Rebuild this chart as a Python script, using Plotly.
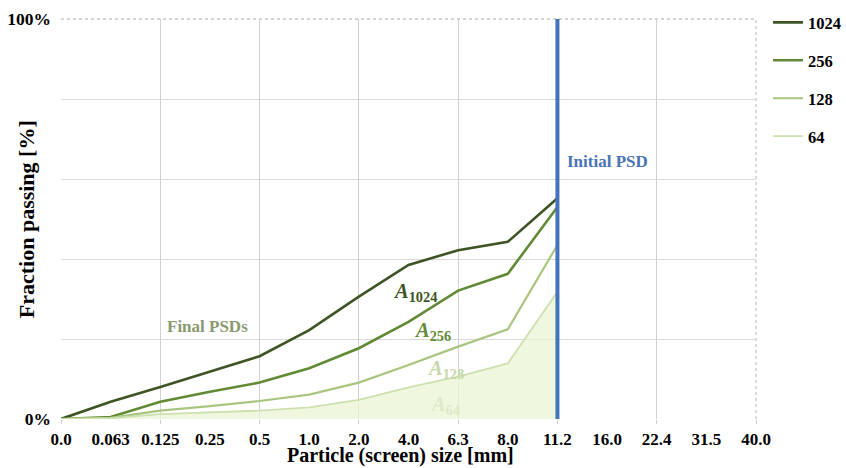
import plotly.graph_objects as go

sizes = ["0.0", "0.063", "0.125", "0.25", "0.5", "1.0", "2.0", "4.0", "6.3", "8.0",
         "11.2", "16.0", "22.4", "31.5", "40.0"]
psd_sizes = sizes[:11]
a1024 = [0, 4.3, 8.0, 11.8, 15.7, 22.2, 30.6, 38.5, 42.2, 44.3, 55.2]
a256 = [0, 0.5, 4.3, 6.8, 9.1, 12.7, 17.7, 24.3, 32.1, 36.3, 53.0]
a128 = [0, 0.3, 2.1, 3.2, 4.5, 6.1, 9.1, 13.5, 18.1, 22.4, 43.5]
a64 = [0, 0.2, 1.2, 1.6, 2.1, 2.9, 4.8, 7.9, 10.6, 13.9, 31.8]
initial_psd_size = "11.2"
initial_psd_values = [0, 100]
y_ticks = [0, 20, 40, 60, 80, 100]
y_ticktext = ["0%", "", "", "", "", "100%"]

idx = {s: i for i, s in enumerate(sizes)}
xs = [idx[s] for s in psd_sizes]

FONT = "Liberation Serif"
series = [
    ("1024", a1024, "#3e5424", 2.6),
    ("256", a256, "#628a34", 2.6),
    ("128", a128, "#a9c57f", 2.2),
    ("64", a64, "#cde0b0", 1.8),
]

fig = go.Figure()
# fill under the 64 curve (no legend entry)
fig.add_trace(go.Scatter(x=xs, y=a64, mode="none", fill="tozeroy",
                         fillcolor="rgba(233,244,210,0.7)", showlegend=False,
                         hoverinfo="skip"))
for name, vals, color, w in series:
    fig.add_trace(go.Scatter(x=xs, y=vals, mode="lines", name=name,
                             line=dict(color=color, width=w), legendgroup=name))

xi = idx[initial_psd_size]
fig.add_trace(go.Scatter(x=[xi, xi], y=initial_psd_values, mode="lines",
                         line=dict(color="#4373bd", width=4), showlegend=False,
                         hoverinfo="skip"))

fig.update_layout(
    width=846, height=468,
    margin=dict(l=61, r=90, t=19, b=49),
    plot_bgcolor="white", paper_bgcolor="white",
    font=dict(family=FONT, color="black"),
    legend=dict(xref="container", yref="container", x=0.9078, xanchor="left",
                y=0.989, yanchor="top",
                font=dict(family=FONT, size=16.5, color="black", weight="bold"),
                tracegroupgap=13.5, itemwidth=30, bgcolor="rgba(0,0,0,0)"),
    xaxis=dict(range=[0, 14], tickmode="array", tickvals=list(range(len(sizes))),
               ticktext=sizes, showgrid=False, zeroline=False, showline=False,
               ticks="", automargin=False, ticklabelstandoff=8,
               tickfont=dict(family=FONT, size=17, color="black", weight="bold")),
    xaxis2=dict(range=[0, 14], overlaying="x", side="bottom", tickmode="array",
                tickvals=list(range(0, len(sizes), 2)), showticklabels=False,
                showgrid=True, gridcolor="#d2d2d2", gridwidth=1.3, zeroline=False,
                ticks="outside", ticklen=4, tickcolor="#cccccc", automargin=False),
    yaxis=dict(range=[0, 100], tickmode="array", tickvals=y_ticks, ticktext=y_ticktext,
               showgrid=True, gridcolor="#dadada", gridwidth=1.3, zeroline=False,
               ticks="", ticklabelstandoff=9, automargin=False,
               tickfont=dict(family=FONT, size=17.5, color="black", weight="bold")),
)
# dummy trace on overlay axis to make it render
fig.add_trace(go.Scatter(x=[0], y=[0], xaxis="x2", mode="markers",
                         marker=dict(opacity=0), showlegend=False, hoverinfo="skip"))

# axis titles as text placed in the margins
fig.add_annotation(xref="paper", yref="paper", x=-0.05, y=0.5, xanchor="center",
                   yanchor="middle", text="Fraction passing [%]", textangle=-90,
                   showarrow=False,
                   font=dict(family=FONT, size=22, color="black", weight="bold"))
fig.add_annotation(xref="paper", yref="paper", x=0.4878, y=-0.1225, xanchor="center",
                   yanchor="bottom", text="Particle (screen) size [mm]",
                   showarrow=False, borderpad=0,
                   font=dict(family=FONT, size=20, color="black", weight="bold"))

# dotted frame top & right
fig.add_shape(type="line", xref="paper", yref="paper", x0=0, x1=1, y0=1, y1=1,
              line=dict(color="#c8c8c8", width=1.3, dash="dot"), layer="below")
fig.add_shape(type="line", xref="paper", yref="paper", x0=1, x1=1, y0=0, y1=1,
              line=dict(color="#c8c8c8", width=1.3, dash="dot"), layer="below")

def ann(text, x, y, color, size=14):
    fig.add_annotation(x=x, y=y, text=text, showarrow=False,
                       font=dict(family=FONT, size=size, color=color, weight="bold"))

ann("Final PSDs", 2.96, 23.2, "#8b9970", 17)
ann("Initial PSD", 11.0, 64.4, "#4a74b6", 17)
ann("<i>A</i><sub>1024</sub>", 7.13, 31.6, "#3e5424", 20.5)
ann("<i>A</i><sub>256</sub>", 7.48, 21.9, "#628a34", 20.5)
ann("<i>A</i><sub>128</sub>", 7.74, 12.4, "#c5d8a8", 20.5)
ann("<i>A</i><sub>64</sub>", 7.74, 3.5, "#dde9c8", 20.5)

fig.write_html("out.html", config={"displayModeBar": False},
               post_script="document.body.style.margin='0';")
